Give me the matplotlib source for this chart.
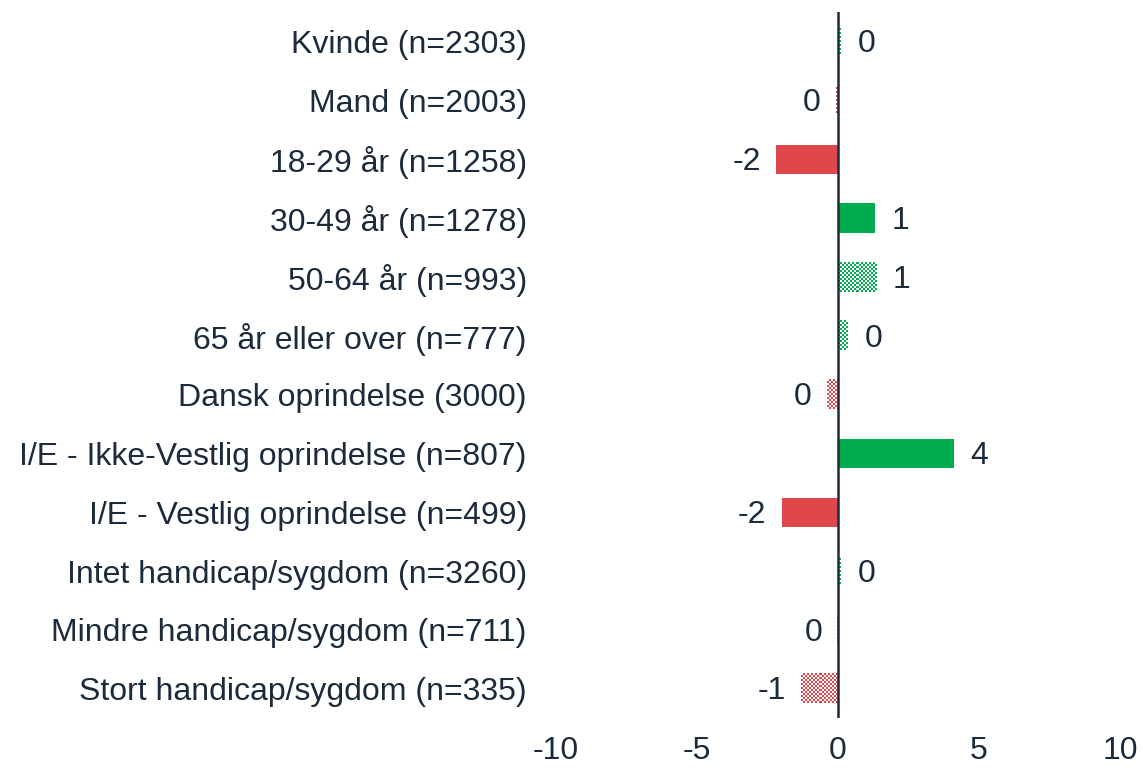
import matplotlib.pyplot as plt
from matplotlib.colors import ListedColormap
import numpy as np

plt.rcParams['font.family'] = ['Liberation Sans', 'DejaVu Sans']
plt.rcParams['axes.unicode_minus'] = False

labels = ['Kvinde (n=2303)', 'Mand (n=2003)', '18-29 år (n=1258)', '30-49 år (n=1278)',
          '50-64 år (n=993)', '65 år eller over (n=777)', 'Dansk oprindelse (3000)',
          'I/E - Ikke-Vestlig oprindelse (n=807)', 'I/E - Vestlig oprindelse (n=499)',
          'Intet handicap/sygdom (n=3260)', 'Mindre handicap/sygdom (n=711)',
          'Stort handicap/sygdom (n=335)']
values = [0.1, -0.08, -2.2, 1.3, 1.35, 0.35, -0.4, 4.1, -2.0, 0.1, -0.02, -1.3]
significant = [False, False, True, True, False, False, False, True, True, False, False, False]

green = '#00AC4E'
red = '#E0474C'
navy = '#1B2B3C'

fig = plt.figure(figsize=(11.43, 7.68), dpi=100)
ax = fig.add_axes([0.4864, 0.065, 0.4935, 0.919])
ax.set_xlim(-10, 10)
ax.set_ylim(len(labels) - 0.5, -0.5)

# pixel size of one data unit, for the checker fill of non-significant bars
px_x = ax.get_position().width * fig.bbox.width / 20
px_y = ax.get_position().height * fig.bbox.height / len(labels)
cell = 2.0

y = np.arange(len(labels))
bh = 0.5
for yi, v, sig in zip(y, values, significant):
    c = green if v >= 0 else red
    if sig:
        ax.barh(yi, v, height=bh, color=c, linewidth=0)
    else:
        nx = max(1, int(round(abs(v) * px_x / cell)))
        ny = max(1, int(round(bh * px_y / cell)))
        checker = np.indices((ny, nx)).sum(0) % 2
        ax.imshow(checker, cmap=ListedColormap(['white', c]), aspect='auto',
                  interpolation='nearest', vmin=0, vmax=1,
                  extent=(min(0, v), max(0, v), yi + bh / 2, yi - bh / 2))
    txt = str(int(round(v))) if round(v) != 0 else '0'
    if v >= 0:
        ax.annotate(txt, (v, yi), xytext=(12, -2), textcoords='offset points',
                    ha='left', va='center', fontsize=23, color=navy)
    else:
        ax.annotate(txt, (v, yi), xytext=(-11, -2), textcoords='offset points',
                    ha='right', va='center', fontsize=23, color=navy)

ax.axvline(0, color=navy, linewidth=1.8)
ax.set_xlim(-10, 10)
ax.set_ylim(len(labels) - 0.5, -0.5)
ax.set_xticks([-10, -5, 0, 5, 10])
ax.set_yticks(y)
ax.set_yticklabels(labels)
ax.tick_params(axis='both', length=0, labelsize=23, colors=navy)
ax.tick_params(axis='y', pad=21)
ax.tick_params(axis='x', pad=13)
for s in ax.spines.values():
    s.set_visible(False)

fig.savefig('out.png', dpi=100)
